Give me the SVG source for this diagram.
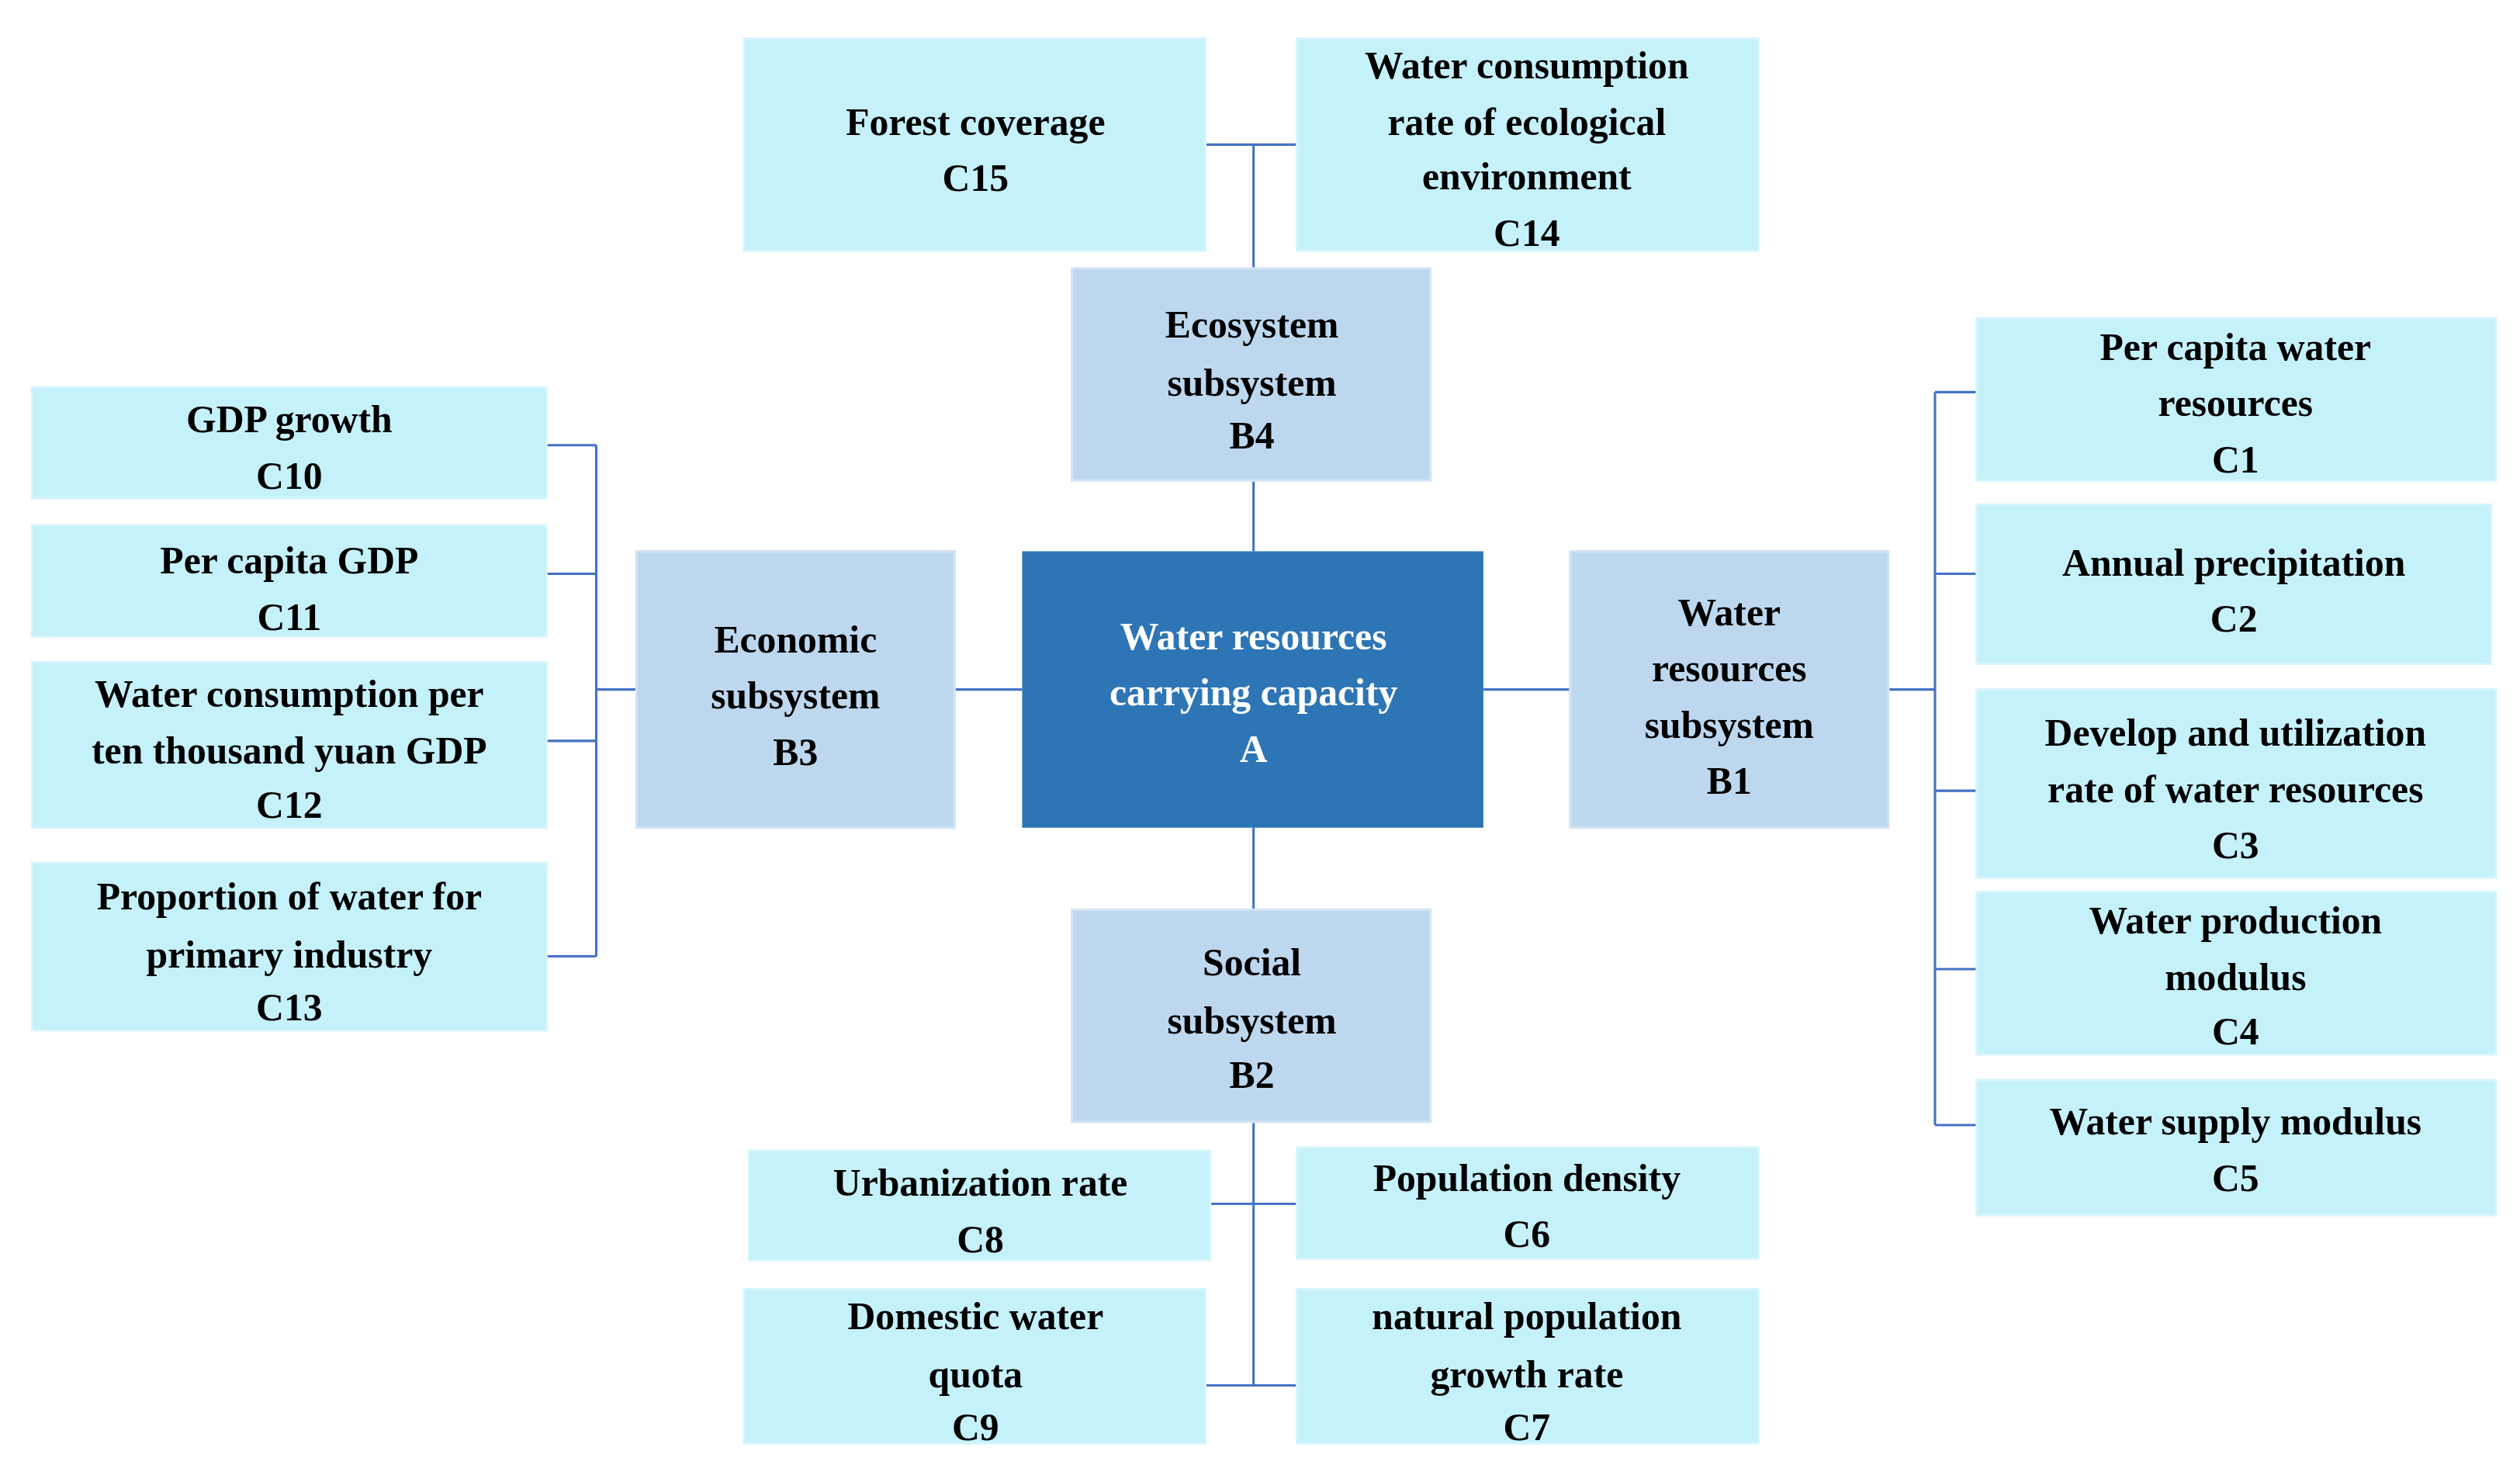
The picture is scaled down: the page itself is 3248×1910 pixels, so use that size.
<svg xmlns="http://www.w3.org/2000/svg" width="3248" height="1910" viewBox="0 0 3248 1910">
<style>
.c{fill:#C5F1FB;stroke:#D6F5FC;stroke-width:1.5}
.b{fill:#BDD7EE;stroke:#D3E4F4;stroke-width:1.5}
.a{fill:#2E75B6}
text{font-family:"Liberation Serif","Times New Roman",serif;font-weight:bold;font-size:24px;text-anchor:middle;fill:#000}
.w{fill:#fff}
#connectors path{fill:none;stroke:#4472C4;stroke-width:1.5}
</style>
<rect width="3248" height="1910" fill="#fff"/>
<g transform="scale(2.0714)">
<g id="connectors">
<path d="M750 90H807M780 90V167M780 299V343M780 515V566M780 698V862M753 749H807M750 862H807"/>
<path d="M594 429H636M923 429H977"/>
<path d="M396 429H371M371 277V595M340 277H371M340 357H371M340 461H371M340 595H371"/>
<path d="M1175 429H1204M1204 244V700M1204 244H1230M1204 357H1230M1204 492H1230M1204 603H1230M1204 700H1230"/>
</g>
<g id="A"><rect class="a" x="636" y="343" width="287" height="172"/><text class="w" x="780" y="404">Water resources</text><text class="w" x="780" y="439">carrying capacity</text><text class="w" x="780" y="474">A</text></g>
<g id="B4"><rect class="b" x="667" y="167" width="223" height="132"/><text x="779" y="210">Ecosystem</text><text x="779" y="246">subsystem</text><text x="779" y="279">B4</text></g>
<g id="B3"><rect class="b" x="396" y="343" width="198" height="172"/><text x="495" y="406">Economic</text><text x="495" y="441">subsystem</text><text x="495" y="476">B3</text></g>
<g id="B1"><rect class="b" x="977" y="343" width="198" height="172"/><text x="1076" y="389">Water</text><text x="1076" y="424">resources</text><text x="1076" y="459">subsystem</text><text x="1076" y="494">B1</text></g>
<g id="B2"><rect class="b" x="667" y="566" width="223" height="132"/><text x="779" y="607">Social</text><text x="779" y="643">subsystem</text><text x="779" y="677">B2</text></g>
<g id="C15"><rect class="c" x="463" y="24" width="287" height="132"/><text x="607" y="84">Forest coverage</text><text x="607" y="119">C15</text></g>
<g id="C14"><rect class="c" x="807" y="24" width="287" height="132"/><text x="950" y="49">Water consumption</text><text x="950" y="84">rate of ecological</text><text x="950" y="118">environment</text><text x="950" y="153">C14</text></g>
<g id="C10"><rect class="c" x="20" y="241" width="320" height="69"/><text x="180" y="269">GDP growth</text><text x="180" y="304">C10</text></g>
<g id="C11"><rect class="c" x="20" y="327" width="320" height="69"/><text x="180" y="357">Per capita GDP</text><text x="180" y="392">C11</text></g>
<g id="C12"><rect class="c" x="20" y="412" width="320" height="103"/><text x="180" y="440">Water consumption per</text><text x="180" y="475">ten thousand yuan GDP</text><text x="180" y="509">C12</text></g>
<g id="C13"><rect class="c" x="20" y="537" width="320" height="104"/><text x="180" y="566">Proportion of water for</text><text x="180" y="602">primary industry</text><text x="180" y="635">C13</text></g>
<g id="C1"><rect class="c" x="1230" y="198" width="323" height="101"/><text x="1391" y="224">Per capita water</text><text x="1391" y="259">resources</text><text x="1391" y="294">C1</text></g>
<g id="C2"><rect class="c" x="1230" y="314" width="320" height="99"/><text x="1390" y="358">Annual precipitation</text><text x="1390" y="393">C2</text></g>
<g id="C3"><rect class="c" x="1230" y="429" width="323" height="117"/><text x="1391" y="464">Develop and utilization</text><text x="1391" y="499">rate of water resources</text><text x="1391" y="534">C3</text></g>
<g id="C4"><rect class="c" x="1230" y="555" width="323" height="101"/><text x="1391" y="581">Water production</text><text x="1391" y="616">modulus</text><text x="1391" y="650">C4</text></g>
<g id="C5"><rect class="c" x="1230" y="672" width="323" height="84"/><text x="1391" y="706">Water supply modulus</text><text x="1391" y="741">C5</text></g>
<g id="C8"><rect class="c" x="466" y="716" width="287" height="68"/><text x="610" y="744">Urbanization rate</text><text x="610" y="779">C8</text></g>
<g id="C6"><rect class="c" x="807" y="714" width="287" height="69"/><text x="950" y="741">Population density</text><text x="950" y="776">C6</text></g>
<g id="C9"><rect class="c" x="463" y="802" width="287" height="96"/><text x="607" y="827">Domestic water</text><text x="607" y="863">quota</text><text x="607" y="896">C9</text></g>
<g id="C7"><rect class="c" x="807" y="802" width="287" height="96"/><text x="950" y="827">natural population</text><text x="950" y="863">growth rate</text><text x="950" y="896">C7</text></g>
</g>
</svg>
